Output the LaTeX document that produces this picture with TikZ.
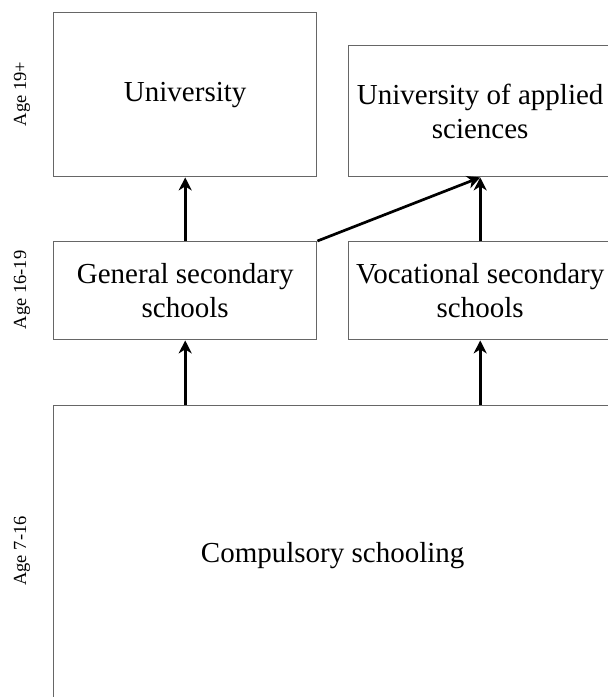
\documentclass[tikz,border=0pt]{standalone}
\usepackage{fontspec}
\setmainfont{Liberation Serif}
\usetikzlibrary{arrows.meta}
\begin{document}
\begin{tikzpicture}[x=1pt,y=-1pt,
  box/.style={draw=black!60,line width=1.4pt,rectangle,anchor=north west,inner sep=0pt,
    align=center,font=\fontsize{29}{34}\selectfont},
  flow/.style={line width=2.7pt,-{Stealth[length=13pt,width=13pt,inset=4pt]}},
  agelbl/.style={rotate=90,font=\fontsize{18.5}{20}\selectfont}]
\useasboundingbox (0,0) rectangle (608,697);
\clip (0,0) rectangle (608,697);
\node[box,minimum width=263pt,minimum height=164pt] (uni) at (53,12) {University};
\node[box,minimum width=263pt,minimum height=131pt] (app) at (348,45) {University of applied\\sciences};
\node[box,minimum width=263pt,minimum height=98pt] (gen) at (53,241) {General secondary\\schools};
\node[box,minimum width=263pt,minimum height=98pt] (voc) at (348,241) {Vocational secondary\\schools};
\node[box,minimum width=558pt,minimum height=300pt] (comp) at (53,405) {Compulsory schooling};
\node[agelbl] (a1) at (22,94) {Age 19+};
\node[agelbl] (a2) at (22,290) {Age 16-19};
\node[agelbl] (a3) at (22,551) {Age 7-16};
\draw[flow] (gen.north) -- (uni.south);
\draw[flow] (gen.north east) -- (app.south);
\draw[flow] (voc.north) -- (app.south);
\draw[flow] (gen.south |- comp.north) -- (gen.south);
\draw[flow] (voc.south |- comp.north) -- (voc.south);
\end{tikzpicture}
\end{document}
